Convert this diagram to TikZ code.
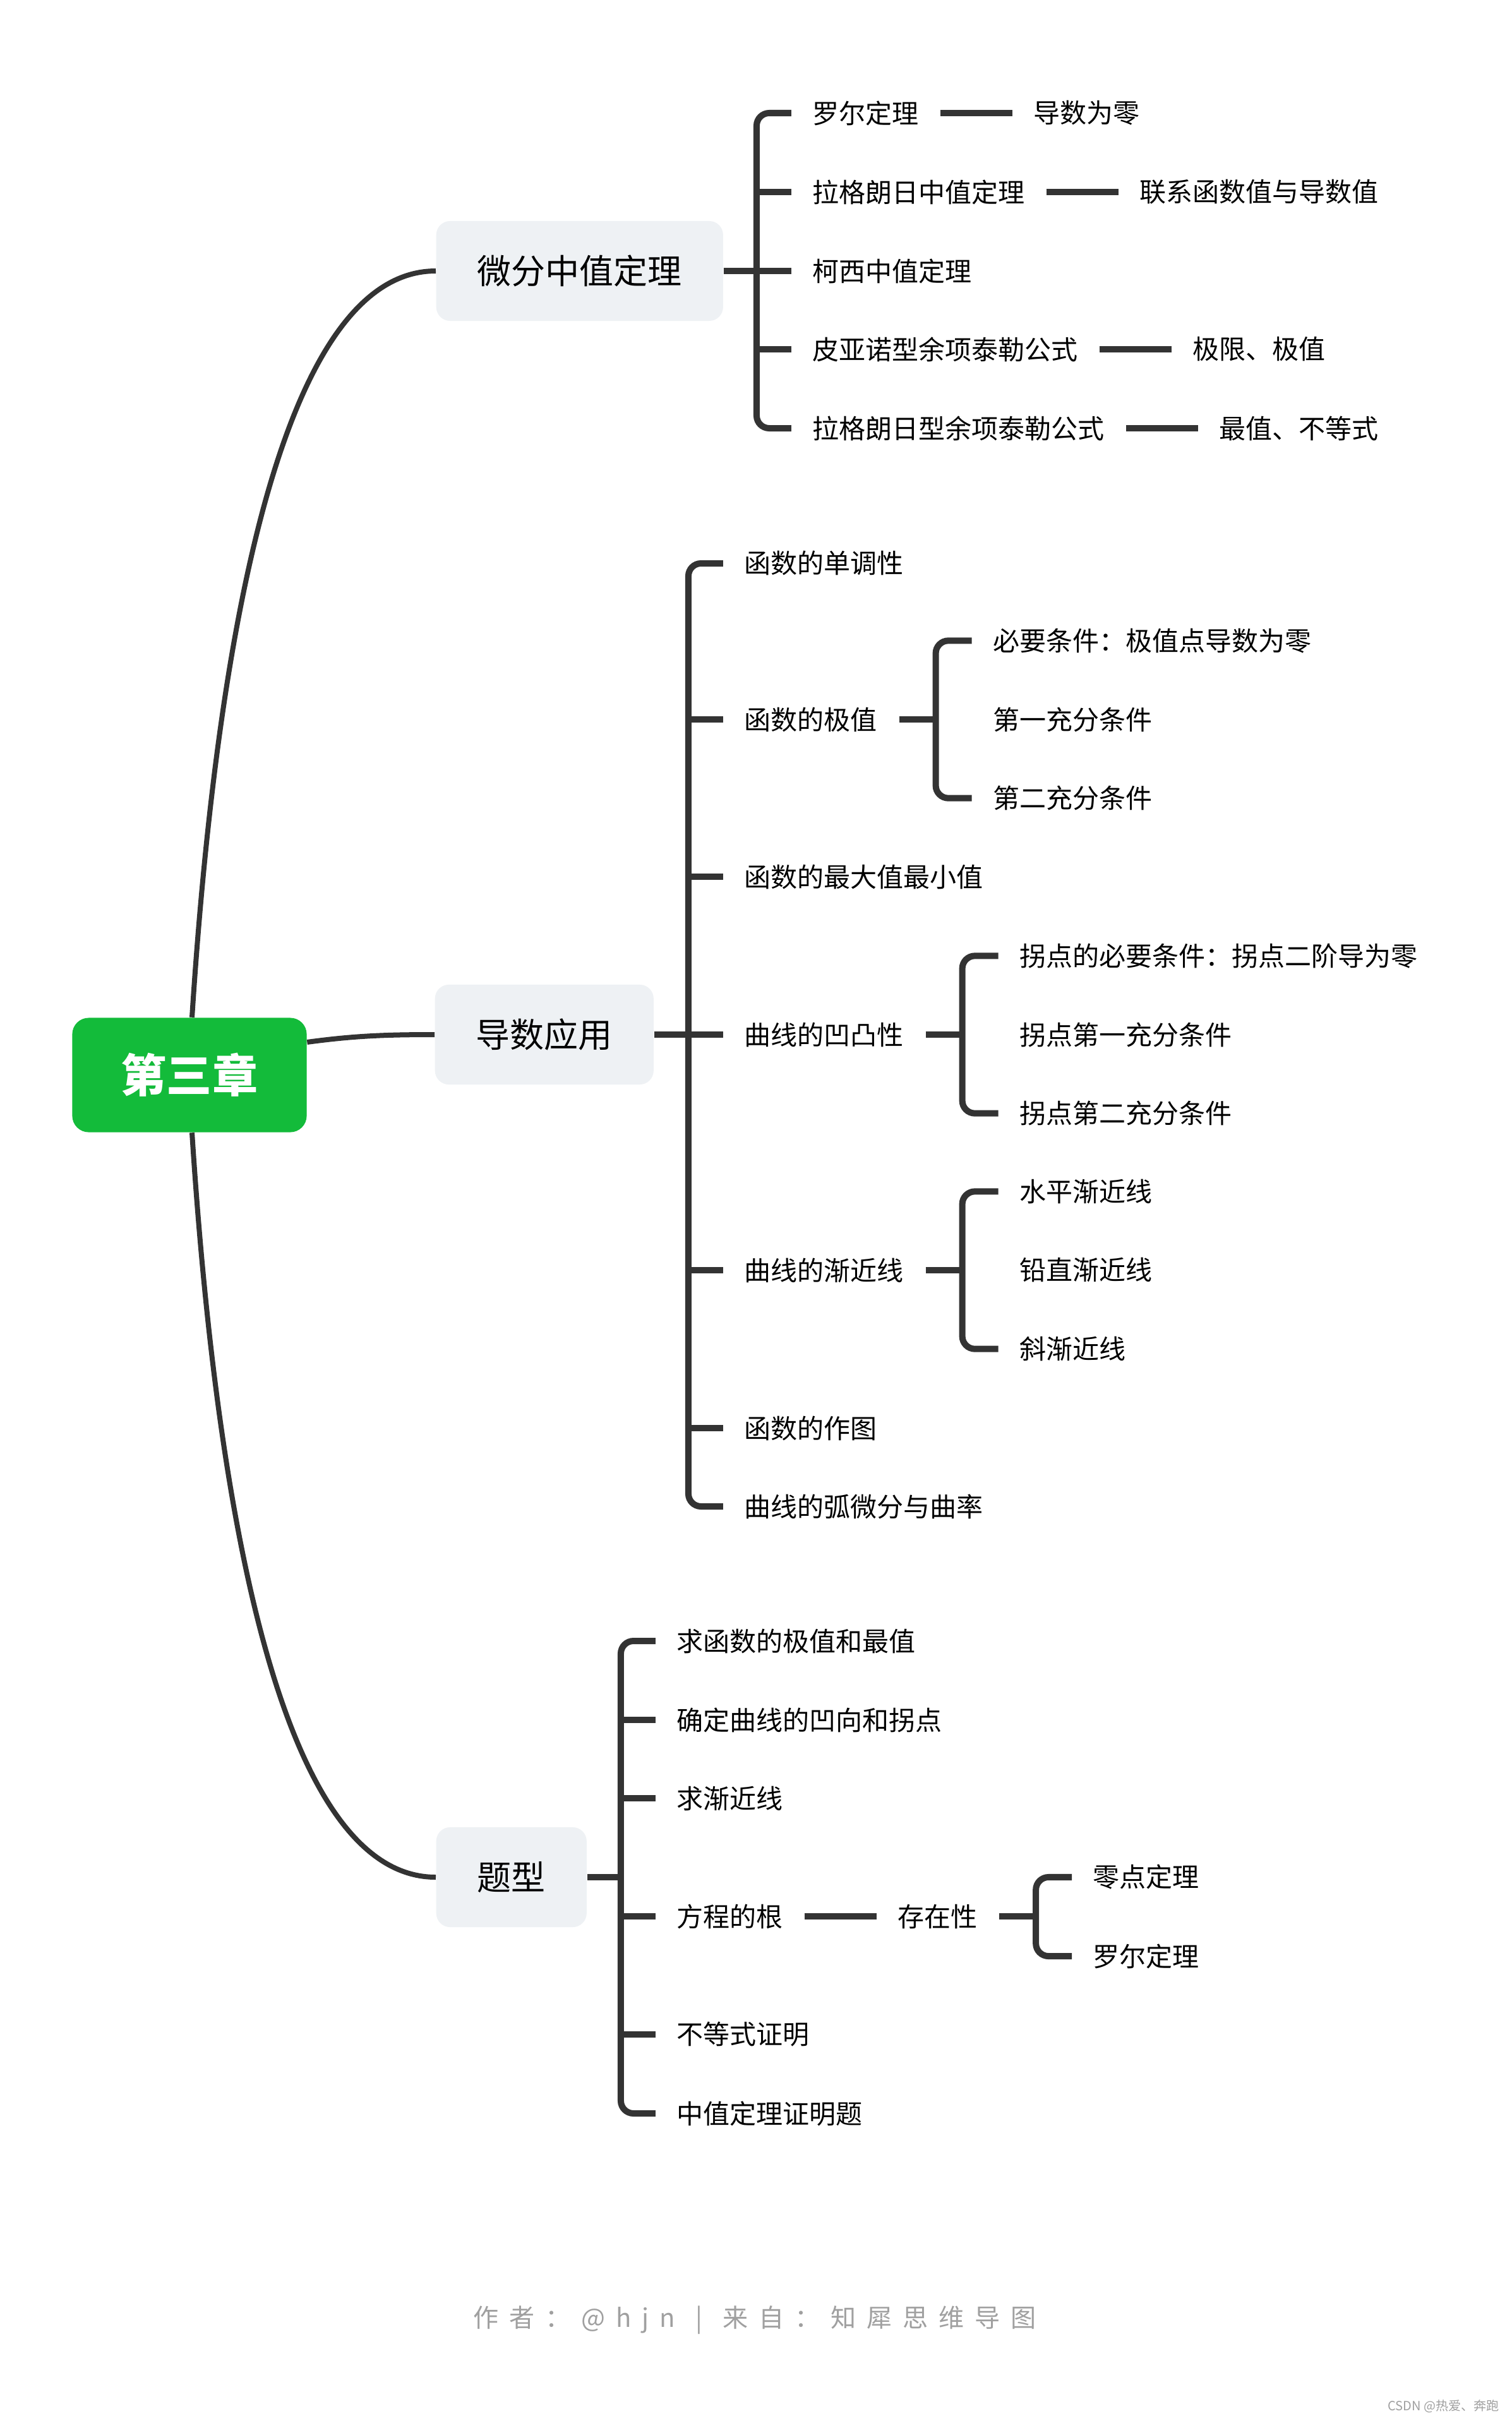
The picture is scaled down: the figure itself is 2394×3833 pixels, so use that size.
\documentclass[tikz,border=0pt]{standalone}
\usepackage{fontspec}
\setmainfont{Noto Sans CJK SC}
\newfontfamily\footfam[LetterSpace=42]{Noto Sans CJK SC}
\usetikzlibrary{positioning}
\definecolor{rootgreen}{RGB}{19,187,58}
\definecolor{topicbg}{RGB}{238,241,244}
\definecolor{linegray}{RGB}{51,51,51}
\definecolor{footgray}{RGB}{160,160,160}

\begin{document}
\begin{tikzpicture}[x=0.01cm,y=-0.01cm,
  trunk/.style={draw=linegray,line width=0.08cm},
  branch/.style={draw=linegray,line width=0.1cm,rounded corners=0.2cm},
  leaf/.style={anchor=west,inner sep=0pt,font=\fontsize{11.95pt}{14pt}\selectfont},
  topic/.style={anchor=west,fill=topicbg,rounded corners=0.22cm,inner xsep=0.65cm,inner ysep=0pt,minimum height=1.58cm,font=\fontsize{15.36pt}{18pt}\selectfont}]
\useasboundingbox (0,0) rectangle (2394,3833);
\fill [white] (0,0) rectangle (2394,3833);

\node [fill=rootgreen,text=white,rounded corners=0.26cm,minimum width=3.71cm,minimum height=1.81cm,font=\fontsize{20.5pt}{24pt}\selectfont\bfseries] (root) at (300,1702) {第三章};
\node [topic] (wf) at (690,429) {微分中值定理};
\node [topic] (dy) at (688,1638) {导数应用};
\node [topic] (tx) at (690,2972) {题型};

\draw [trunk] ([xshift=0.04cm]root.north) .. controls (350,900) and (470,429) .. (wf.west);
\draw [trunk] ([yshift=0.52cm]root.east) .. controls (560,1640) and (610,1638) .. (dy.west);
\draw [trunk] ([xshift=0.04cm]root.south) .. controls (350,2505) and (470,2972) .. (tx.west);

% 微分中值定理
\node [leaf] (wf1) at (1286,179) {罗尔定理};
\node [leaf] (wf2) at (1286,304) {拉格朗日中值定理};
\node [leaf] (wf3) at (1286,429) {柯西中值定理};
\node [leaf] (wf4) at (1286,553) {皮亚诺型余项泰勒公式};
\node [leaf] (wf5) at (1286,678) {拉格朗日型余项泰勒公式};
\node [leaf,right=1.8cm of wf1] (wf1a) {导数为零};
\node [leaf,right=1.8cm of wf2] (wf2a) {联系函数值与导数值};
\node [leaf,right=1.8cm of wf4] (wf4a) {极限、极值};
\node [leaf,right=1.8cm of wf5] (wf5a) {最值、不等式};

\draw [branch] ([xshift=-0.33cm]wf1.west) -| ([xshift=-0.88cm]wf5.west) -- ([xshift=-0.33cm]wf5.west);
\draw [branch] (wf.east) -- ([xshift=-0.33cm]wf3.west);

% 导数应用
\node [leaf] (dy1) at (1178,892) {函数的单调性};
\node [leaf] (dy2) at (1178,1139) {函数的极值};
\node [leaf] (dy3) at (1178,1388) {函数的最大值最小值};
\node [leaf] (dy4) at (1178,1638) {曲线的凹凸性};
\node [leaf] (dy5) at (1178,2011) {曲线的渐近线};
\node [leaf] (dy6) at (1178,2261) {函数的作图};
\node [leaf] (dy7) at (1178,2385) {曲线的弧微分与曲率};
\node [leaf] (dy2a) at ([shift={(1.82cm,1.246cm)}]dy2.east) {必要条件：极值点导数为零};
\node [leaf] (dy2b) at ([shift={(1.82cm,0cm)}]dy2.east) {第一充分条件};
\node [leaf] (dy2c) at ([shift={(1.82cm,-1.246cm)}]dy2.east) {第二充分条件};
\node [leaf] (dy4a) at ([shift={(1.82cm,1.246cm)}]dy4.east) {拐点的必要条件：拐点二阶导为零};
\node [leaf] (dy4b) at ([shift={(1.82cm,0cm)}]dy4.east) {拐点第一充分条件};
\node [leaf] (dy4c) at ([shift={(1.82cm,-1.246cm)}]dy4.east) {拐点第二充分条件};
\node [leaf] (dy5a) at ([shift={(1.82cm,1.246cm)}]dy5.east) {水平渐近线};
\node [leaf] (dy5b) at ([shift={(1.82cm,0cm)}]dy5.east) {铅直渐近线};
\node [leaf] (dy5c) at ([shift={(1.82cm,-1.246cm)}]dy5.east) {斜渐近线};

\draw [branch] ([xshift=-0.33cm]dy1.west) -| ([xshift=-0.88cm]dy7.west) -- ([xshift=-0.33cm]dy7.west);
\draw [branch] (dy.east) -- ([xshift=-0.33cm]dy4.west);
\draw [branch] ([xshift=-0.33cm]dy2a.west) -| ([xshift=-0.9cm]dy2c.west) -- ([xshift=-0.33cm]dy2c.west);
\draw [branch] ([xshift=-0.33cm]dy4a.west) -| ([xshift=-0.9cm]dy4c.west) -- ([xshift=-0.33cm]dy4c.west);
\draw [branch] ([xshift=-0.33cm]dy5a.west) -| ([xshift=-0.9cm]dy5c.west) -- ([xshift=-0.33cm]dy5c.west);

% 题型
\node [leaf] (tx1) at (1071,2598) {求函数的极值和最值};
\node [leaf] (tx2) at (1071,2723) {确定曲线的凹向和拐点};
\node [leaf] (tx3) at (1071,2847) {求渐近线};
\node [leaf] (tx4) at (1071,3034) {方程的根};
\node [leaf] (tx5) at (1071,3221) {不等式证明};
\node [leaf] (tx6) at (1071,3346) {中值定理证明题};
\node [leaf,right=1.8cm of tx4] (tx4a) {存在性};
\node [leaf] (tx4b) at ([shift={(1.82cm,0.62cm)}]tx4a.east) {零点定理};
\node [leaf] (tx4c) at ([shift={(1.82cm,-0.63cm)}]tx4a.east) {罗尔定理};
\coordinate (txv) at ([xshift=-0.88cm]tx1.west);
\coordinate (tx4v) at ([xshift=-0.9cm]tx4b.west);

\draw [branch] ([xshift=-0.33cm]tx1.west) -| ([xshift=-0.88cm]tx6.west) -- ([xshift=-0.33cm]tx6.west);
\draw [branch] (tx.east) -- (tx.east -| txv);
\draw [branch] ([xshift=-0.33cm]tx4b.west) -| ([xshift=-0.9cm]tx4c.west) -- ([xshift=-0.33cm]tx4c.west);
\draw [branch] ([xshift=0.34cm]tx4a.east) -- (tx4a.east -| tx4v);

\foreach \n in {wf2,wf4,tx2,tx3,tx4,tx5,dy2,dy3,dy5,dy6}
  \draw [branch] ([xshift=-0.88cm]\n.west) -- ([xshift=-0.33cm]\n.west);
\foreach \n in {dy2,dy4,dy5}
  \draw [branch] ([xshift=0.34cm]\n.east) -- ++(0.58cm,0);
\foreach \a/\b in {wf1/wf1a,wf2/wf2a,wf4/wf4a,wf5/wf5a,tx4/tx4a}
  \draw [branch] ([xshift=0.33cm]\a.east) -- ([xshift=-0.33cm]\b.west);

\node [text=footgray,font=\footfam\fontsize{11.4pt}{14pt}\selectfont] (foot) at (1195,3673) {作者：@hjn \,|\, 来自：知犀思维导图};
\node [anchor=east,text=footgray,font=\fontsize{5.7pt}{7pt}\selectfont] (csdn) at (2386,3810) {CSDN @热爱、奔跑};
\end{tikzpicture}
\end{document}
